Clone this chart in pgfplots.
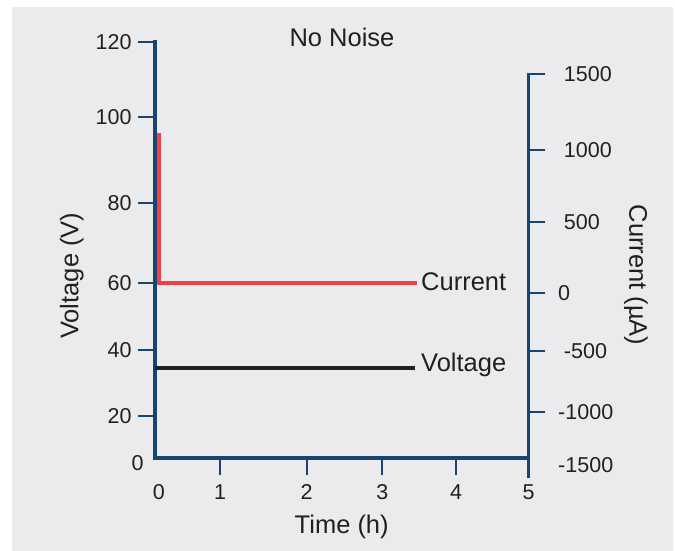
\documentclass[border=0pt]{standalone}
\usepackage{fontspec}
\setmainfont{Liberation Sans}
\usepackage{pgfplots}
\pgfplotsset{compat=1.18}
\definecolor{axisblue}{RGB}{24,69,112}
\definecolor{curred}{RGB}{236,67,74}
\definecolor{txt}{RGB}{35,31,32}
\definecolor{bggray}{RGB}{235,235,237}
\newcommand\tickfont{\fontsize{21.5}{24}\selectfont}
\newcommand\labfont{\fontsize{25.5}{28}\selectfont}
\begin{document}
\begin{tikzpicture}
\fill[white] (0pt,0pt) rectangle (675pt,-551pt);
\fill[bggray] (12pt,-7pt) rectangle (673pt,-551pt);
% left axis: voltage and time
\begin{axis}[
  at={(155pt,-458pt)}, anchor=south west,
  scale only axis, width=373.7pt, height=416pt,
  clip=false,
  x coord trafo/.code={\pgfmathparse{(#1<1)?(65*#1):((#1<2)?(65+86.7*(#1-1)):((#1<3)?(151.7+75.6*(#1-2)):((#1<4)?(227.3+73.7*(#1-3)):(301+72.7*(#1-4)))))}},
  y coord trafo/.code={\pgfmathparse{(#1<20)?(2.115*#1):((#1<40)?(42.3+3.3*(#1-20)):((#1<60)?(108.3+3.35*(#1-40)):((#1<80)?(175.3+4*(#1-60)):((#1<100)?(255.3+4.27*(#1-80)):(340.7+3.765*(#1-100))))))}},
  xmin=0, xmax=5, ymin=0, ymax=120,
  axis x line*=bottom, axis y line*=left,
  axis line style={line width=3.3pt, color=axisblue, line cap=rect},
  tick style={line width=2.3pt, color=axisblue},
  tick align=outside, major tick length=17pt,
  xtick={1,2,3,4,5}, xticklabels={1,2,3,4,5},
  ytick={20,40,60,80,100,120}, yticklabels={20,40,60,80,100,120},
  extra x ticks={0.06}, extra x tick labels={0},
  extra y ticks={0}, extra y tick labels={0},
  extra x tick style={tick style={draw=none}},
  extra y tick style={tick style={draw=none}, yticklabel style={xshift=12pt, yshift=-5pt}},
  tick label style={font=\tickfont, text=txt},
  xticklabel style={anchor=north, yshift=-6pt},
  yticklabel style={anchor=east, xshift=-3pt},
  xlabel={Time (h)}, ylabel={Voltage (V)},
  xlabel style={at={(axis description cs:0.4996,-0.1587)}, anchor=center, yshift=-3pt, font=\labfont, text=txt, inner sep=0pt},
  ylabel style={at={(axis description cs:-0.2229,0.438)}, anchor=center, rotate=0, font=\labfont, text=txt, inner sep=0pt},
  title={No Noise},
  title style={at={(axis description cs:0.5004,1.0115)}, anchor=center, yshift=-6pt, font=\labfont, text=txt, inner sep=0pt},
]
\addplot[line width=4.3pt, color=txt] coordinates {(0,34.5) (3.444,34.5)}
  node[pos=1, anchor=base west, inner sep=0pt, xshift=4pt, yshift=-3.8pt, font=\labfont, text=txt] {Voltage};
\end{axis}
% right axis: current
\begin{axis}[
  at={(155pt,-476pt)}, anchor=south west,
  scale only axis, width=373.7pt, height=401.7pt,
  clip=false,
  x coord trafo/.code={\pgfmathparse{(#1<1)?(65*#1):((#1<2)?(65+86.7*(#1-1)):((#1<3)?(151.7+75.6*(#1-2)):((#1<4)?(227.3+73.7*(#1-3)):(301+72.7*(#1-4)))))}},
  y coord trafo/.code={\pgfmathparse{(#1<-1000)?(17+0.0934*(#1+1500)):((#1<-500)?(63.7+0.1232*(#1+1000)):((#1<0)?(125.3+0.1148*(#1+500)):((#1<500)?(182.7+0.1426*#1):((#1<1000)?(254+0.1446*(#1-500)):(326.3+0.1508*(#1-1000))))))}},
  xmin=0, xmax=5, ymin=-1682, ymax=1500,
  axis x line=none, axis y line*=right,
  axis line style={line width=3.3pt, color=axisblue, line cap=rect},
  tick style={line width=2.3pt, color=axisblue},
  tick align=outside, major tick length=16.5pt,
  ytick={-1000,-500,0,500,1000,1500},
  yticklabels={-1000,\hspace*{5.7pt}-500,0,\hspace*{5.7pt}500,\hspace*{5.7pt}1000,\hspace*{5.7pt}1500},
  extra y ticks={-1500}, extra y tick labels={-1500},
  extra y tick style={tick style={draw=none}, yticklabel style={yshift=-6pt}},
  tick label style={font=\tickfont, text=txt},
  yticklabel style={anchor=west, xshift=9.5pt},
  ylabel={Current (µA)},
  ylabel style={at={(axis description cs:1.2871,0.5004)}, anchor=center, rotate=180, font=\labfont, text=txt, inner sep=0pt},
]
\addplot[line width=4pt, color=curred, line join=miter] coordinates {(0.057,1109) (0.057,72) (3.467,72)}
  node[pos=1, anchor=base west, inner sep=0pt, xshift=2.5pt, yshift=-7.7pt, font=\labfont, text=txt] {Current};
\end{axis}
\end{tikzpicture}
\end{document}
